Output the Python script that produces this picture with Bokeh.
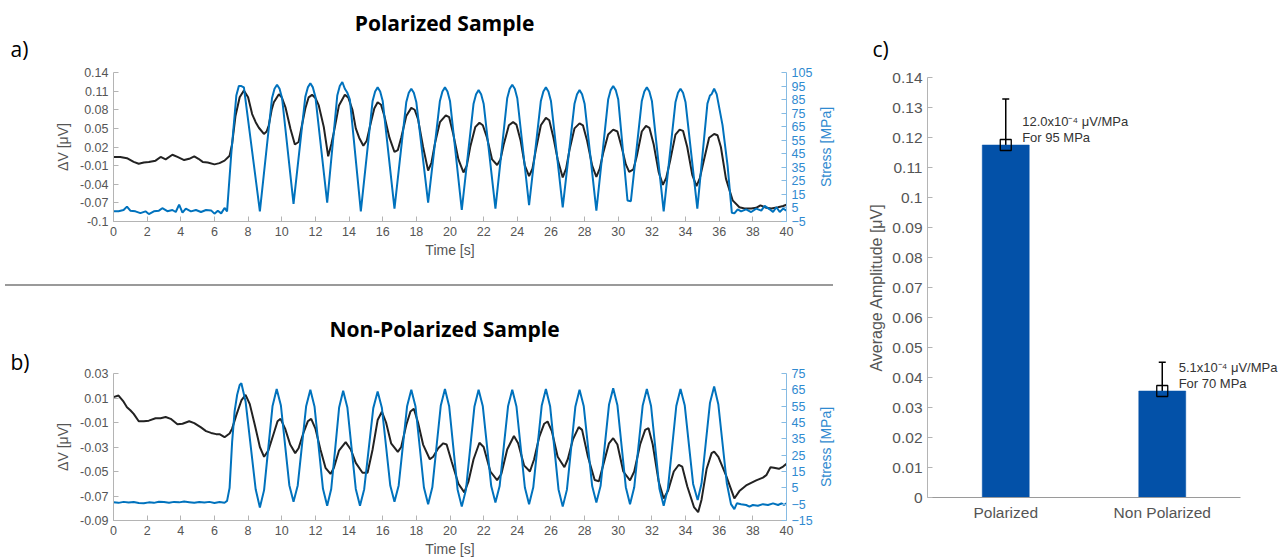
import math
from bokeh.plotting import figure
from bokeh.models import (Range1d, LinearAxis, FixedTicker, CustomJSTickFormatter,
                          Label, Whisker, TeeHead, ColumnDataSource, Div)
from bokeh.layouts import row, column
from bokeh.embed import file_html
from bokeh.resources import INLINE

# ---------------- data ----------------
time_ticks = [0, 2, 4, 6, 8, 10, 12, 14, 16, 18, 20, 22, 24, 26, 28, 30, 32, 34, 36, 38, 40]

# panel a: polarized sample
a_dv_ticks = [-0.1, -0.07, -0.04, -0.01, 0.02, 0.05, 0.08, 0.11, 0.14]
a_stress_ticks = [-5, 5, 15, 25, 35, 45, 55, 65, 75, 85, 95, 105]
a_dv_t = [
    0.0, 0.4, 0.8, 1.2, 1.5, 1.8, 2.1, 2.5, 2.8, 3.1, 3.5,
    3.8, 4.2, 4.5, 4.8, 5.05, 5.3, 5.6, 6.0, 6.3, 6.6, 6.9,
    7.05, 7.25, 7.5, 7.75, 8.0, 8.24, 8.45, 8.64, 8.94, 9.1, 9.23,
    9.4, 9.53, 9.83, 10.0, 10.22, 10.52, 10.78, 11.0, 11.2, 11.4, 11.6,
    11.8, 12.0, 12.2, 12.5, 12.76, 12.95, 13.1, 13.4, 13.75, 13.95, 14.2,
    14.4, 14.6, 14.85, 15.05, 15.3, 15.5, 15.7, 15.9, 16.1, 16.4, 16.7,
    16.9, 17.1, 17.4, 17.7, 17.9, 18.1, 18.4, 18.7, 18.9, 19.1, 19.4,
    19.75, 19.95, 20.2, 20.5, 20.8, 21.0, 21.2, 21.5, 21.75, 21.95, 22.2,
    22.5, 22.8, 23.0, 23.2, 23.5, 23.75, 23.95, 24.2, 24.45, 24.7, 24.9,
    25.1, 25.4, 25.7, 25.9, 26.15, 26.4, 26.7, 26.9, 27.1, 27.4, 27.7,
    27.9, 28.15, 28.45, 28.7, 28.9, 29.1, 29.4, 29.7, 29.95, 30.2, 30.45,
    30.65, 30.9, 31.1, 31.4, 31.65, 31.85, 32.1, 32.4, 32.65, 32.85, 33.1,
    33.4, 33.65, 33.85, 34.1, 34.4, 34.65, 34.85, 35.1, 35.4, 35.7, 35.9,
    36.1, 36.4, 36.8, 37.2, 37.5, 37.9, 38.2, 38.45, 38.8, 39.1, 39.5,
    39.8, 40.0]
a_dv = [
    0.004, 0.004, 0.002, -0.004, -0.007, -0.005, -0.004, -0.002, 0.004, 0.0, 0.0075,
    0.004, -0.001, 0.001, 0.005, 0.001, -0.004, -0.005, -0.008, -0.006, -0.002, 0.006,
    0.025, 0.07, 0.1, 0.111, 0.1, 0.073, 0.06, 0.051, 0.041, 0.045, 0.055,
    0.08, 0.092, 0.105, 0.1, 0.084, 0.049, 0.024, 0.028, 0.055, 0.082, 0.1,
    0.104, 0.099, 0.087, 0.052, 0.005, 0.025, 0.044, 0.087, 0.104, 0.1, 0.08,
    0.05, 0.035, 0.022, 0.03, 0.06, 0.082, 0.092, 0.088, 0.07, 0.035, 0.012,
    0.015, 0.035, 0.07, 0.083, 0.08, 0.065, 0.02, -0.018, -0.005, 0.025, 0.06,
    0.071, 0.068, 0.04, 0.0, -0.021, -0.01, 0.02, 0.052, 0.059, 0.055, 0.035,
    0.0, -0.009, 0.0, 0.025, 0.055, 0.06, 0.056, 0.03, -0.01, -0.027, -0.015,
    0.015, 0.055, 0.067, 0.063, 0.035, 0.0, -0.029, -0.015, 0.015, 0.05, 0.058,
    0.055, 0.03, -0.01, -0.028, -0.015, 0.01, 0.04, 0.048, 0.045, 0.02, -0.008,
    -0.02, -0.016, 0.005, 0.045, 0.054, 0.051, 0.025, -0.02, -0.041, -0.03, 0.0,
    0.04, 0.048, 0.046, 0.02, -0.025, -0.043, -0.03, 0.0, 0.035, 0.041, 0.039,
    0.02, -0.031, -0.066, -0.077, -0.079, -0.079, -0.078, -0.074, -0.078, -0.079, -0.077,
    -0.075, -0.073]
a_st_t = [
    0.0, 0.3, 0.6, 0.8, 1.0, 1.3, 1.6, 1.9, 2.1, 2.4, 2.7, 2.9, 3.2, 3.5,
    3.7, 3.9, 4.1, 4.3, 4.6, 4.9, 5.2, 5.5, 5.8, 6.0, 6.2, 6.4, 6.6, 6.75,
    7.0, 7.3, 7.45, 7.6, 7.75, 8.7,
    9.42, 9.57, 9.72, 9.87, 10.02, 10.7,
    11.4, 11.55, 11.7, 11.85, 12.0, 12.7,
    13.3, 13.45, 13.6, 13.75, 13.9, 14.05, 14.7,
    15.4, 15.55, 15.7, 15.85, 16.0, 16.7,
    17.4, 17.55, 17.7, 17.85, 18.0, 18.7,
    19.4, 19.55, 19.7, 19.85, 20.0, 20.7,
    21.4, 21.55, 21.7, 21.85, 22.0, 22.7,
    23.4, 23.55, 23.7, 23.85, 24.0, 24.7,
    25.4, 25.55, 25.7, 25.85, 26.0, 26.7,
    27.4, 27.55, 27.7, 27.85, 28.0, 28.7,
    29.4, 29.55, 29.7, 29.85, 30.0, 30.55, 30.75,
    31.4, 31.55, 31.7, 31.85, 32.0, 32.7,
    33.4, 33.55, 33.7, 33.85, 34.0, 34.7,
    35.3, 35.45, 35.55, 35.7, 35.85, 36.2, 36.5, 36.75,
    36.9, 37.1, 37.3, 37.6, 37.9, 38.2, 38.5, 38.7, 39.0, 39.2, 39.4, 39.6, 39.8, 40.0]
a_st = [
    2.5, 2.6, 3.5, 6.0, 3.0, 2.5, 1.2, 2.5, 0.5, 2.5, 3.0, 4.8, 2.6, 3.5,
    2.0, 7.5, 1.5, 4.5, 2.5, 3.5, 2.0, 3.5, 3.2, 0.8, 3.0, 1.0, 5.0, 2.5,
    45, 88, 95, 95, 94, 2.5,
    86, 93, 96, 93, 86, 8,
    87, 94, 97, 94, 87, 9,
    88, 95, 98, 93, 90, 85, 2.5,
    84, 91, 94, 91, 84, 4.5,
    83, 90, 93, 90, 83, 9,
    84, 91, 94, 91, 84, 3.5,
    82, 89, 92, 89, 82, 4.5,
    86, 93, 96, 93, 86, 7,
    84, 91, 94, 91, 84, 5.5,
    82, 89, 92, 89, 82, 3,
    85, 92, 95, 92, 85, 10.5, 10,
    84, 91, 94, 91, 84, 2.5,
    83, 90, 93, 90, 83, 4.5,
    82, 88, 89, 93, 89, 66, 36, 1.5,
    1.0, 4.0, 2.5, 4.0, 2.0, 4.5, 3.0, 6.5, 4.0, 2.0, 5.5, 2.0, 4.5, 3.0]

# panel b: non-polarized sample
b_dv_ticks = [-0.09, -0.07, -0.05, -0.03, -0.01, 0.01, 0.03]
b_stress_ticks = [-15, -5, 5, 15, 25, 35, 45, 55, 65, 75]
b_dv_t = [
    0.0, 0.3, 0.6, 0.8, 1.0, 1.2, 1.5, 1.8, 2.1, 2.5, 2.8,
    3.1, 3.4, 3.8, 4.1, 4.5, 4.8, 5.2, 5.5, 5.8, 6.1, 6.3,
    6.6, 6.9, 7.05, 7.3, 7.6, 7.85, 8.1, 8.4, 8.7, 8.95, 9.2,
    9.5, 9.75, 9.93, 10.2, 10.5, 10.8, 11.0, 11.3, 11.55, 11.75, 12.0,
    12.3, 12.6, 12.9, 13.1, 13.4, 13.8, 14.1, 14.4, 14.8, 15.1, 15.4,
    15.7, 15.95, 16.2, 16.5, 16.9, 17.1, 17.4, 17.65, 17.85, 18.1, 18.4,
    18.8, 19.0, 19.3, 19.6, 19.8, 20.1, 20.5, 20.85, 21.1, 21.4, 21.75,
    22.0, 22.4, 22.8, 23.05, 23.4, 23.8, 24.05, 24.4, 24.75, 25.0, 25.3,
    25.6, 25.8, 26.05, 26.4, 26.8, 27.0, 27.3, 27.65, 27.85, 28.2, 28.6,
    28.85, 29.1, 29.45, 29.7, 29.95, 30.3, 30.7, 30.95, 31.3, 31.6, 31.8,
    32.05, 32.4, 32.7, 32.95, 33.3, 33.6, 33.8, 34.1, 34.5, 34.75, 34.95,
    35.25, 35.55, 35.7, 35.95, 36.4, 36.9, 37.2, 37.6, 38.2, 38.6, 38.8,
    39.05, 39.25, 39.55, 39.8, 40.0]
b_dv = [
    0.0107, 0.012, 0.007, 0.0025, 0.0, -0.003, -0.009, -0.009, -0.0085, -0.0065, -0.0065,
    -0.0055, -0.007, -0.0115, -0.011, -0.009, -0.0105, -0.014, -0.017, -0.0185, -0.0195, -0.0195,
    -0.022, -0.019, -0.015, -0.004, 0.008, 0.0126, 0.005, -0.012, -0.03, -0.038, -0.033,
    -0.02, -0.009, -0.007, -0.015, -0.028, -0.035, -0.031, -0.018, -0.009, -0.007, -0.015,
    -0.032, -0.047, -0.052, -0.047, -0.033, -0.026, -0.032, -0.043, -0.051, -0.051, -0.032,
    -0.008, -0.0012, -0.01, -0.027, -0.034, -0.03, -0.012, -0.001, 0.0012, -0.01, -0.028,
    -0.04, -0.038, -0.031, -0.027, -0.028, -0.042, -0.06, -0.067, -0.058, -0.04, -0.0265,
    -0.03, -0.05, -0.057, -0.052, -0.032, -0.021, -0.027, -0.045, -0.05, -0.04, -0.022,
    -0.011, -0.0092, -0.017, -0.038, -0.0465, -0.04, -0.024, -0.0138, -0.016, -0.038, -0.057,
    -0.058, -0.045, -0.027, -0.0228, -0.028, -0.05, -0.0573, -0.05, -0.028, -0.016, -0.0146,
    -0.028, -0.058, -0.072, -0.066, -0.05, -0.0445, -0.046, -0.062, -0.079, -0.0832, -0.073,
    -0.048, -0.035, -0.0337, -0.038, -0.053, -0.072, -0.066, -0.0614, -0.0573, -0.055, -0.053,
    -0.0465, -0.047, -0.0478, -0.046, -0.0437]
b_st_t = [
    0.0, 0.3, 0.6, 0.9, 1.2, 1.5, 1.8, 2.1, 2.4, 2.7, 3.0, 3.3,
    3.6, 3.9, 4.2, 4.5, 4.8, 5.1, 5.4, 5.7, 6.0, 6.3, 6.6, 6.75,
    6.9, 7.05, 7.2, 7.35, 7.5, 7.6, 7.85, 8.15, 8.45, 8.7,
    8.95, 9.2, 9.45, 9.7, 9.95, 10.2, 10.45, 10.7,
    10.95, 11.2, 11.45, 11.7, 11.95, 12.2, 12.45, 12.7,
    12.94, 13.18, 13.41, 13.65, 13.9, 14.15, 14.4, 14.65,
    14.9, 15.17, 15.44, 15.7, 15.95, 16.2, 16.45, 16.7,
    16.95, 17.2, 17.45, 17.7, 17.95, 18.2, 18.45, 18.7,
    18.95, 19.2, 19.45, 19.7, 19.95, 20.2, 20.45, 20.7,
    20.95, 21.2, 21.45, 21.7, 21.95, 22.2, 22.45, 22.7,
    22.95, 23.2, 23.45, 23.7, 23.95, 24.2, 24.45, 24.7,
    24.95, 25.2, 25.45, 25.7, 25.95, 26.2, 26.45, 26.7,
    26.95, 27.2, 27.45, 27.7, 27.95, 28.2, 28.45, 28.7,
    28.95, 29.2, 29.45, 29.7, 29.95, 30.2, 30.45, 30.7,
    30.95, 31.2, 31.45, 31.7, 31.95, 32.2, 32.45, 32.7,
    32.95, 33.2, 33.45, 33.7, 33.95, 34.2, 34.45, 34.72,
    34.95, 35.2, 35.45, 35.7, 35.95, 36.2, 36.45, 36.7, 36.9, 37.05,
    37.3, 37.6, 37.8, 38.0, 38.3, 38.6, 38.9, 39.2, 39.5, 39.7, 39.85, 40.0]
b_st = [
    -3.8, -4.2, -3.6, -4.0, -3.7, -4.3, -4.5, -3.9, -4.2, -3.5, -3.7, -4.1,
    -3.6, -3.9, -3.4, -3.8, -4.2, -3.7, -4.0, -3.6, -4.3, -3.7, -4.1, -3.0,
    5, 33, 52, 62, 68, 69, 57.9, 31, 4.1, -7,
    3.6, 29.3, 54.9, 65.5, 55.4, 31, 6.6, -3.5,
    6.5, 30.8, 55, 65, 54.6, 29.5, 4.4, -6,
    4.3, 29.3, 54.2, 64.5, 54.2, 29.3, 4.3, -6,
    4.2, 29, 53.8, 64, 54.1, 30.3, 6.4, -3.5,
    6.5, 30.8, 55, 65, 54.8, 30, 5.2, -5,
    5.3, 30.3, 55.2, 65.5, 55, 29.5, 4, -6.5,
    3.9, 29.3, 54.6, 65, 54.9, 30.5, 6.1, -4,
    6.1, 30.5, 54.9, 65, 54.8, 30, 5.2, -5,
    5.3, 30.3, 55.2, 65.5, 55, 29.5, 4, -6.5,
    3.9, 29.3, 54.6, 65, 54.9, 30.5, 6.1, -4,
    6.2, 31, 55.8, 66, 55.6, 30.5, 5.4, -5,
    5.3, 30.3, 55.2, 65.5, 55.1, 29.8, 4.4, -6,
    4.4, 29.8, 55.1, 65.5, 55.6, 31.5, 7.4, -2.5,
    7.6, 32.3, 56.9, 67, 56, 32, 8, -5, -8, -4.5,
    -5, -5.5, -6.5, -5.5, -6, -5, -5.5, -4.5, -5.5, -4.5, -5.5, -4.5]

# panel c: average amplitude
c_categories = ["Polarized", "Non Polarized"]
c_amplitude = [0.1175, 0.0355]
c_err_low = [0.1018, 0.0262]
c_err_high = [0.1328, 0.0451]
c_note_line1 = ["12.0x10\u207b\u2074 \u03bcV/MPa", "5.1x10\u207b\u2074 \u03bcV/MPa"]
c_note_line2 = ["For 95 MPa", "For 70 MPa"]
c_ticks = [0, 0.01, 0.02, 0.03, 0.04, 0.05, 0.06, 0.07, 0.08, 0.09, 0.1, 0.11, 0.12, 0.13, 0.14]

# ---------------- style ----------------
FONT = "Liberation Sans"
TITLE_FONT = "Open Sans"
AX_LINE = "#b4b4b4"
AX_TEXT = "#555555"
BLUE = "#0072bd"
BLUE_AX_LINE = "#86bbe3"
BLUE_TEXT = "#2f8ad0"
BLACK_LINE = "#222222"
BAR = "#0351a8"

fmt2 = CustomJSTickFormatter(code="return Number(tick.toFixed(2)).toString();")


def style_axis(ax, line_color, text_color, tick_size="12.5px", label_size="14px"):
    ax.axis_line_color = line_color
    ax.axis_line_width = 1
    ax.major_tick_line_color = line_color
    ax.major_tick_in = 5
    ax.major_tick_out = 0
    ax.minor_tick_line_color = None
    ax.major_label_text_color = text_color
    ax.major_label_text_font = FONT
    ax.major_label_text_font_size = tick_size
    ax.axis_label_text_font = FONT
    ax.axis_label_text_font_style = "normal"
    ax.axis_label_text_font_size = label_size
    ax.axis_label_text_color = text_color


def blank(w, h):
    """Empty canvas whose frame covers it all; data units = pixels from top-left."""
    f = figure(width=w, height=h, output_backend="svg", toolbar_location=None,
               title_location=None, x_range=Range1d(0, w), y_range=Range1d(h, 0),
               min_border=0, x_axis_location=None, y_axis_location=None,
               background_fill_color="white", border_fill_color="white")
    f.outline_line_color = None
    f.grid.visible = False
    try:
        f.frame_align = False
    except Exception:
        pass
    return f


def big_text(f, x, y, text, bold=False, align="left"):
    f.add_layout(Label(x=x, y=y, text=text, text_align=align, text_baseline="middle",
                       text_font=TITLE_FONT, text_font_style="bold" if bold else "normal",
                       text_font_size="21px", text_color="#000000"))


def stress_label(w, h, cx, cy):
    f = blank(w, h)
    f.add_layout(Label(x=cx, y=cy, text="Stress [MPa]", angle=math.pi / 2,
                       text_align="center", text_baseline="middle", text_font=FONT,
                       text_font_size="14px", text_color=BLUE_TEXT))
    return f


def ts_panel(width, height, left, right, top, bottom, dv_lim, dv_ticks, st_lim, st_ticks,
             t_dv, dv, t_st, st):
    p = figure(width=width, height=height, output_backend="svg", toolbar_location=None,
               title_location=None,
               x_range=Range1d(0, 40), y_range=Range1d(*dv_lim),
               min_border_left=left, min_border_right=right,
               min_border_top=top, min_border_bottom=bottom,
               background_fill_color="white", border_fill_color="white")
    p.outline_line_color = None
    p.xgrid.visible = False
    p.ygrid.visible = False
    p.extra_y_ranges = {"stress": Range1d(*st_lim)}

    p.xaxis.ticker = FixedTicker(ticks=time_ticks, minor_ticks=[])
    p.xaxis.axis_label = "Time [s]"
    p.xaxis.axis_label_standoff = 3
    style_axis(p.xaxis[0], AX_LINE, AX_TEXT)
    p.yaxis.ticker = FixedTicker(ticks=dv_ticks, minor_ticks=[])
    p.yaxis.formatter = fmt2
    p.yaxis.axis_label = "\u0394V [\u03bcV]"
    p.yaxis.axis_label_standoff = 6
    style_axis(p.yaxis[0], AX_LINE, AX_TEXT)

    rax = LinearAxis(y_range_name="stress",
                     ticker=FixedTicker(ticks=st_ticks, minor_ticks=[]))
    style_axis(rax, BLUE_AX_LINE, BLUE_TEXT)
    p.add_layout(rax, "right")

    p.line(t_dv, dv, line_color=BLACK_LINE, line_width=2)
    p.line(t_st, st, line_color=BLUE, line_width=2, y_range_name="stress")
    return p


TAG_W, LAB_W = 40, 43
MAIN_W = 860 - TAG_W - LAB_W          # 777

# ----- block a (y 0..284) -----
HEAD_A = 40
tag_a = blank(TAG_W, 284)
big_text(tag_a, 10, 48, "a)")
head_a = blank(MAIN_W + LAB_W, HEAD_A)
big_text(head_a, 444 - TAG_W, 22, "Polarized Sample", bold=True, align="center")
fig_a = ts_panel(MAIN_W, 284 - HEAD_A, 113 - TAG_W, MAIN_W - (786 - TAG_W), 72 - HEAD_A,
                 284 - 221, (-0.1, 0.14), a_dv_ticks, (-5, 105), a_stress_ticks,
                 a_dv_t, a_dv, a_st_t, a_st)
lab_a = stress_label(LAB_W, 284 - HEAD_A, 825 - (860 - LAB_W), 146.5 - HEAD_A)
block_a = row(tag_a, column(head_a, row(fig_a, lab_a)))

# separator line between panels a and b
sep = Div(text="", width=828, height=2, margin=(0, 27, 0, 5),
          styles={"background-color": "#9a9a9a"})

# ----- block b (y 286..559) -----
B0, HEAD_B = 286, 60
tag_b = blank(TAG_W, 273)
big_text(tag_b, 10, 361 - B0, "b)")
head_b = blank(MAIN_W + LAB_W, HEAD_B)
big_text(head_b, 444 - TAG_W, 328 - B0, "Non-Polarized Sample", bold=True, align="center")
fig_b = ts_panel(MAIN_W, 273 - HEAD_B, 113 - TAG_W, MAIN_W - (786 - TAG_W),
                 373 - B0 - HEAD_B, 559 - 520, (-0.09, 0.03), b_dv_ticks, (-15, 75),
                 b_stress_ticks, b_dv_t, b_dv, b_st_t, b_st)
lab_b = stress_label(LAB_W, 273 - HEAD_B, 825 - (860 - LAB_W), 446.5 - B0 - HEAD_B)
block_b = row(tag_b, column(head_b, row(fig_b, lab_b)))

# ---------------- panel c ----------------
HEAD_C = 62
head_c = blank(428, HEAD_C)
big_text(head_c, 872 - 860, 48, "c)")

c_left, c_top, c_bottom = 67, 77 - HEAD_C, 559 - 497
c_frame_right = 1285 - 860
c_x_end = 0.5 + (c_frame_right - c_left) / 156.5
fig_c = figure(width=428, height=559 - HEAD_C, output_backend="svg", toolbar_location=None,
               title_location=None,
               x_range=Range1d(0.5, c_x_end), y_range=Range1d(0, 0.14),
               min_border_left=c_left, min_border_right=428 - c_frame_right,
               min_border_top=c_top, min_border_bottom=c_bottom,
               background_fill_color="white", border_fill_color="white")
fig_c.outline_line_color = None
fig_c.xgrid.visible = False
fig_c.ygrid.visible = False

xs = [i + 1 for i in range(len(c_categories))]
src = ColumnDataSource(dict(x=xs, top=c_amplitude, lo=c_err_low, hi=c_err_high))
fig_c.vbar(x="x", top="top", bottom=0, width=0.3, source=src,
           fill_color=BAR, line_color=BAR, line_width=0.5)
fig_c.add_layout(Whisker(source=src, base="x", upper="hi", lower="lo", dimension="height",
                         line_color="black", line_width=1.5,
                         upper_head=TeeHead(size=7, line_color="black", line_width=1.5),
                         lower_head=TeeHead(size=7, line_color="black", line_width=1.5)))
fig_c.scatter(x="x", y="top", source=src, marker="square", size=11,
              fill_color=None, line_color="black", line_width=1.3)

fig_c.xaxis.ticker = FixedTicker(ticks=xs, minor_ticks=[])
fig_c.xaxis.major_label_overrides = {x: c for x, c in zip(xs, c_categories)}
style_axis(fig_c.xaxis[0], "#9a9a9a", AX_TEXT, tick_size="15.5px")
fig_c.xaxis.major_tick_in = 0
fig_c.xaxis.major_label_standoff = 6
fig_c.xaxis.bounds = (0.5, 2.5)
fig_c.yaxis.ticker = FixedTicker(ticks=c_ticks, minor_ticks=[])
fig_c.yaxis.formatter = fmt2
fig_c.yaxis.axis_label = "Average Amplitude [\u03bcV]"
style_axis(fig_c.yaxis[0], AX_LINE, AX_TEXT, tick_size="15.5px", label_size="16px")
fig_c.yaxis.axis_label_standoff = 4

for x, amp, l1, l2 in zip(xs, c_amplitude, c_note_line1, c_note_line2):
    fig_c.add_layout(Label(x=x + 0.105, y=amp + 0.0079, text=l1, text_align="left",
                           text_baseline="middle", text_font=FONT, text_font_size="13px",
                           text_color="#333333"))
    fig_c.add_layout(Label(x=x + 0.105, y=amp + 0.0025, text=l2, text_align="left",
                           text_baseline="middle", text_font=FONT, text_font_size="13px",
                           text_color="#333333"))

layout = row(column(block_a, sep, block_b), column(head_c, row(fig_c)))
open("out.html", "w").write(file_html(layout, INLINE))
